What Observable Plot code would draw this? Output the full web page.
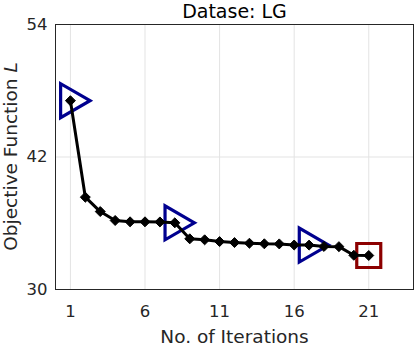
<!DOCTYPE html>
<html><head><meta charset="utf-8">
<script src="https://cdn.jsdelivr.net/npm/d3@7"></script>
<script src="https://cdn.jsdelivr.net/npm/@observablehq/plot@0.6"></script>
<style>
html,body{margin:0;padding:0;background:#fff;}
#chart{width:415px;height:345px;}
</style></head><body><div id="chart"></div>
<script>
const iterations = [1,2,3,4,5,6,7,8,9,10,11,12,13,14,15,16,17,18,19,20,21];
const objective = [47.1,38.36,37.06,36.25,36.13,36.13,36.12,36.04,34.59,34.5,34.34,34.25,34.19,34.14,34.13,34.03,34.02,33.9,33.88,33.1,33.08];
const triangleIters = [1, 8, 17];
const squareIters = [21];
const xTicks = [1, 6, 11, 16, 21];
const yTicks = [30, 42, 54];
const titleText = "Datase: LG";
const xLabel = "No. of Iterations";
const yLabelMain = "Objective Function ";
const yLabelSym = "L";

const rows = iterations.map((it, i) => ({it, v: objective[i]}));
const tri = rows.filter(d => triangleIters.includes(d.it));
const sq = rows.filter(d => squareIters.includes(d.it));

const rightTriangle = {
  draw(context, size) {
    const y = Math.sqrt(size / (3 * Math.sqrt(3)));
    context.moveTo(2 * y, 0);
    context.lineTo(-y, -Math.sqrt(3) * y);
    context.lineTo(-y, Math.sqrt(3) * y);
    context.closePath();
  }
};

const font = "DejaVu Sans";
const chart = Plot.plot({
  width: 415, height: 345,
  marginLeft: 55, marginRight: 2, marginTop: 24, marginBottom: 56,
  style: {fontFamily: font, fontSize: "16.5px", color: "#262626", background: "#fff"},
  x: {domain: [0, 24]},
  y: {domain: [30, 54]},
  marks: [
    Plot.gridX(xTicks, {stroke: "#e3e3e3", strokeOpacity: 1}),
    Plot.gridY(yTicks, {stroke: "#e3e3e3", strokeOpacity: 1}),
    Plot.axisX({ticks: xTicks, tickSize: 0, tickPadding: 16, label: null, fontSize: 16.5}),
    Plot.axisY({ticks: yTicks, tickSize: 0, tickPadding: 8, label: null, fontSize: 16.5}),
    Plot.dot(tri, {x: "it", y: "v", symbol: rightTriangle, r: 12.6, stroke: "#00008f", strokeWidth: 3.2, fill: "none"}),
    Plot.dot(sq, {x: "it", y: "v", symbol: "square", r: 13.54, stroke: "#8c0000", strokeWidth: 3.2, fill: "none"}),
    Plot.line(rows, {x: "it", y: "v", stroke: "black", strokeWidth: 3}),
    Plot.dot(rows, {x: "it", y: "v", symbol: "diamond2", r: 4.5, fill: "black", stroke: "black", strokeWidth: 1}),
    Plot.frame({stroke: "#262626", strokeWidth: 1}),
    Plot.text([titleText], {frameAnchor: "top", lineAnchor: "bottom", dy: -7, fontSize: 19, fill: "black"}),
    Plot.text([xLabel], {frameAnchor: "bottom", lineAnchor: "bottom", dy: 53, fontSize: 18.5, fill: "#262626"})
  ]
});
const svg = d3.select(chart);
const yc = chart.scale("y").apply(42);
const t = svg.append("text")
  .attr("transform", `translate(16.5,${yc}) rotate(-90)`)
  .attr("text-anchor", "middle")
  .attr("font-family", font)
  .attr("font-size", 18.5)
  .attr("fill", "#262626");
t.append("tspan").text(yLabelMain);
t.append("tspan").attr("font-style", "italic").text(yLabelSym);
document.getElementById("chart").appendChild(chart);
</script></body></html>
